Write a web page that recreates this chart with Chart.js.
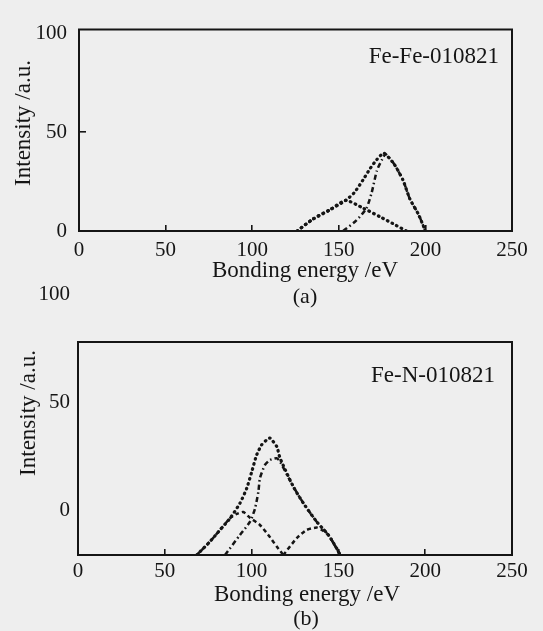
<!DOCTYPE html>
<html><head><meta charset="utf-8">
<script src="https://cdn.jsdelivr.net/npm/chart.js@4.4.0/dist/chart.umd.min.js"></script>
<style>
html,body{margin:0;padding:0;background:#eeeeee;width:543px;height:631px;overflow:hidden}
canvas{position:absolute;left:0}
#ca{top:0}
#cb{top:280px}
</style></head><body>
<canvas id="ca" width="543" height="310"></canvas>
<canvas id="cb" width="543" height="351"></canvas>
<script>
// ---------- data ----------
const xTickValues = [0, 50, 100, 150, 200, 250];
const yTickValuesA = [0, 50, 100];
const yTickValuesB = [0, 50, 100];

const labelA = 'Fe-Fe-010821';
const labelB = 'Fe-N-010821';
const xTitle = 'Bonding energy /eV';
const yTitle = 'Intensity /a.u.';

// (a) Fe-Fe-010821
const aTotalEnergy    = [126, 135, 145, 154, 159, 164, 168, 172, 176, 182, 187, 191, 196, 200];
const aTotalIntensity = [0, 6, 10.8, 15.5, 19.5, 25.9, 31.5, 36.2, 39.4, 33.8, 25.9, 16.3, 8.4, 0];
const aPeak1Energy    = [126, 135, 145, 154, 164, 174, 183, 189];
const aPeak1Intensity = [0, 6, 10.8, 15.5, 11.6, 7.1, 2.9, 0];
const aPeak2Energy    = [152.5, 160, 166, 169, 172, 175, 177, 182, 187, 191, 196, 200];
const aPeak2Intensity = [0, 5.2, 11.6, 19.5, 30.6, 36.2, 38.9, 33.8, 25.9, 16.3, 8.4, 0];

// (b) Fe-N-010821
const bTotalEnergy    = [68.4, 76, 81.8, 87.6, 93.3, 97.2, 100.1, 102.9, 105.8, 108.7, 110.6, 114.5, 116.4, 124, 129.8, 137.5, 144.2, 149, 151];
const bTotalIntensity = [-20.4, -14.2, -8.8, -3.4, 3.6, 10.5, 18.2, 25.9, 30.6, 32.9, 33.7, 29.8, 24.4, 11.3, 3.6, -5, -11.1, -17.3, -20.4];
const bPeak1Energy    = [68.4, 76, 81.8, 87.6, 91.4, 95.2, 99.1, 104.8, 109.6, 114.5, 118.3];
const bPeak1Intensity = [-20.4, -14.2, -8.8, -3.4, -1.4, -0.5, -3.2, -6.5, -11.1, -16.5, -20.4];
const bPeak2Energy    = [84.7, 93.3, 99.1, 102, 103.9, 104.8, 107.7, 110.6, 114.5, 116.4, 124, 129.8, 137.5, 144.2, 149, 151];
const bPeak2Intensity = [-20.4, -11.1, -5, 1.2, 8.9, 15.1, 21.3, 23.6, 24.4, 22.8, 11.3, 3.6, -5, -11.1, -17.3, -20.4];
const bPeak3Energy    = [118.3, 126, 131.7, 137.5, 140.4, 144.2, 151];
const bPeak3Intensity = [-20.4, -12.6, -8.8, -7.7, -8.8, -11.1, -20.4];

// ---------- helpers ----------
const INK = '#151515';
const SERIF = "'Liberation Serif', 'Times New Roman', serif";
Chart.defaults.font.family = SERIF;
Chart.defaults.color = INK;

const pts = (xs, ys) => xs.map((x, i) => ({x: x, y: ys[i]}));

const styles = {
  dots:    {borderDash: [0.6, 4.6], borderWidth: 3.2, borderCapStyle: 'round'},
  dashDot: {borderDash: [5, 3, 1.5, 3], borderWidth: 2.5, borderCapStyle: 'butt'},
  dash:    {borderDash: [4, 3], borderWidth: 2.5, borderCapStyle: 'butt'}
};
function ds(xs, ys, st) {
  return Object.assign({
    data: pts(xs, ys), showLine: true, pointRadius: 0, borderColor: INK,
    backgroundColor: INK, tension: 0.2, fill: false
  }, styles[st]);
}

const textPlugin = {
  id: 'pageText',
  afterDraw(chart, args, opts) {
    const ctx = chart.ctx;
    (opts.items || []).forEach(it => {
      ctx.save();
      ctx.font = it.size + 'px ' + SERIF;
      ctx.fillStyle = INK;
      ctx.textAlign = it.align || 'center';
      ctx.textBaseline = 'middle';
      ctx.translate(it.x, it.y);
      if (it.rotate) ctx.rotate(it.rotate * Math.PI / 180);
      ctx.fillText(it.text, 0, 0);
      ctx.restore();
    });
  }
};
const framePlugin = {
  id: 'frame',
  afterDatasetsDraw(chart) {
    const a = chart.chartArea, ctx = chart.ctx;
    ctx.save();
    ctx.strokeStyle = INK;
    ctx.lineWidth = 2;
    ctx.strokeRect(a.left, a.top, a.right - a.left, a.bottom - a.top);
    ctx.restore();
  }
};

function makeChart(id, cfg) {
  return new Chart(document.getElementById(id), {
    type: 'scatter',
    data: {datasets: cfg.datasets},
    plugins: [textPlugin, framePlugin],
    options: {
      responsive: false, animation: false, devicePixelRatio: 1,
      layout: {padding: {top: cfg.padTop, right: 31, left: 0, bottom: 0}},
      plugins: {legend: {display: false}, tooltip: {enabled: false}, pageText: {items: cfg.texts}},
      scales: {
        x: {
          type: 'linear', min: 0, max: 250,
          afterBuildTicks: s => { s.ticks = xTickValues.map(v => ({value: v})); },
          afterFit: s => { s.height = cfg.xHeight; },
          border: {display: false},
          grid: {drawOnChartArea: false, drawTicks: true, tickLength: -6, lineWidth: 1.6, tickColor: INK},
          ticks: {padding: cfg.xPad, font: {size: 21, lineHeight: 1}, color: INK, maxRotation: 0, autoSkip: false}
        },
        y: {
          type: 'linear', min: cfg.yMin, max: cfg.yMax,
          afterBuildTicks: s => { s.ticks = cfg.yTicks.map(v => ({value: v})); },
          afterFit: s => { s.width = cfg.yWidth; },
          border: {display: false},
          grid: cfg.yGrid,
          ticks: {padding: cfg.yPad, font: {size: 21, lineHeight: 1}, color: INK, autoSkip: false}
        }
      }
    }
  });
}

makeChart('ca', {
  datasets: [
    ds(aTotalEnergy, aTotalIntensity, 'dots'),
    ds(aPeak1Energy, aPeak1Intensity, 'dots'),
    ds(aPeak2Energy, aPeak2Intensity, 'dashDot')
  ],
  padTop: 17, xHeight: 79, yWidth: 79, xPad: 15, yPad: 19,
  yMin: 0, yMax: 102, yTicks: yTickValuesA,
  yGrid: {drawOnChartArea: false, drawTicks: true, tickLength: -7, lineWidth: 1.6,
          tickColor: c => (c.tick && c.tick.value === 50) ? INK : 'rgba(0,0,0,0)'},
  texts: [
    {text: labelA, x: 499, y: 57, size: 23, align: 'right'},
    {text: yTitle, x: 24, y: 123, size: 23, rotate: -90},
    {text: xTitle, x: 305, y: 271, size: 23},
    {text: '(a)', x: 305, y: 297, size: 22}
  ]
});

makeChart('cb', {
  datasets: [
    ds(bTotalEnergy, bTotalIntensity, 'dots'),
    ds(bPeak1Energy, bPeak1Intensity, 'dash'),
    ds(bPeak2Energy, bPeak2Intensity, 'dashDot'),
    ds(bPeak3Energy, bPeak3Intensity, 'dash')
  ],
  padTop: 62, xHeight: 76, yWidth: 78, xPad: 12, yPad: 8,
  yMin: -20.4, yMax: 78.2, yTicks: yTickValuesB,
  yGrid: {display: false, drawOnChartArea: false, drawTicks: false},
  texts: [
    {text: labelB, x: 495, y: 96, size: 23, align: 'right'},
    {text: yTitle, x: 29, y: 133, size: 23, rotate: -90},
    {text: xTitle, x: 307, y: 315, size: 23},
    {text: '(b)', x: 306, y: 339, size: 22}
  ]
});
</script>
</body></html>
